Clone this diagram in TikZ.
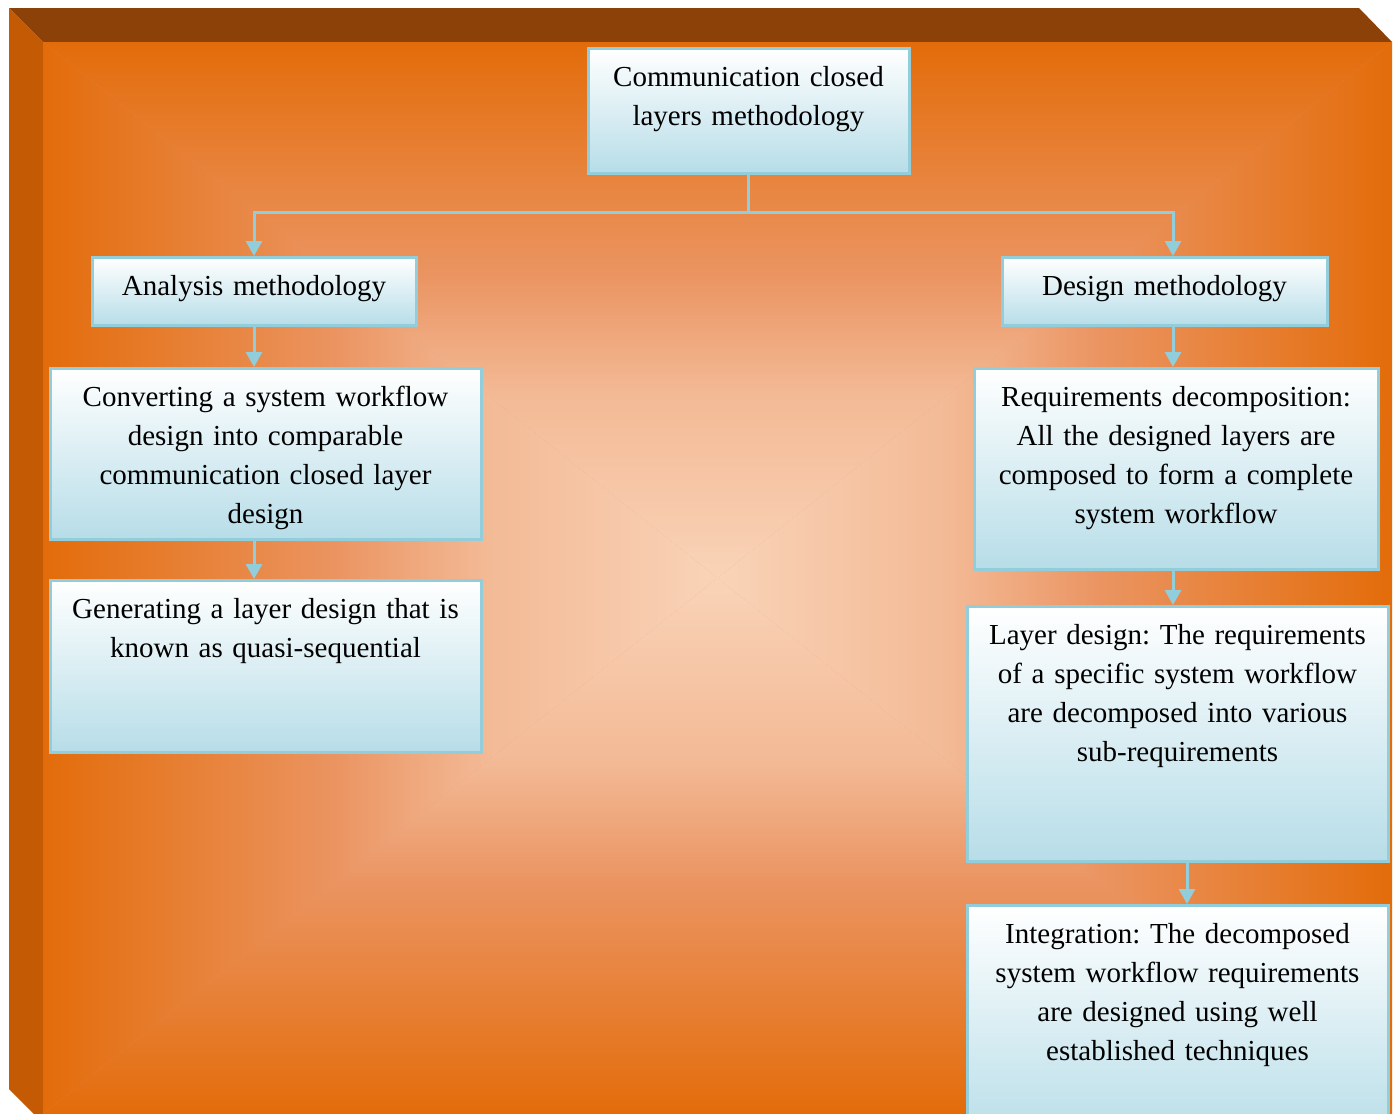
\documentclass[tikz,border=0pt]{standalone}
\usepackage{fontspec}
\setmainfont{Liberation Serif}
\usetikzlibrary{arrows.meta}
\frenchspacing
\definecolor{bevtop}{HTML}{8B4108}
\definecolor{bevside}{HTML}{C55A05}
\definecolor{faceorange}{HTML}{E36C0A}
\definecolor{facemid}{HTML}{EB9563}
\definecolor{facelite}{HTML}{F3BA96}
\definecolor{facepeach}{HTML}{F9D3B7}
\definecolor{boxblue}{HTML}{B7DDE8}
\definecolor{linkblue}{HTML}{92CDDC}
% edge (left) to centre (right) of the board
\pgfdeclarehorizontalshading{edgefade}{100bp}{color(0bp)=(faceorange); color(25bp)=(faceorange); color(47bp)=(facemid); color(58bp)=(facelite); color(75bp)=(facepeach); color(100bp)=(facepeach)}

\begin{document}
\begin{tikzpicture}[x=0.5pt,y=-0.5pt,
    box/.style={draw=linkblue, line width=1.5pt, top color=white, middle color=boxblue!50, bottom color=boxblue,
      anchor=north, align=center, inner xsep=0pt, inner ysep=0pt, text height=19pt,
      font=\fontsize{14.5}{19.5}\selectfont},
    link/.style={draw=linkblue, line width=1.5pt},
    flow/.style={link, -{Triangle[width=8pt,length=7.5pt]}},
    face/.style={shading=edgefade, shading angle=#1}]
  % Page and bevelled board
  \clip (0,0) rectangle (1398,1114);
  \fill[white] (0,0) rectangle (1398,1114);
  \fill[bevtop] (9,8) -- (1359,8) -- (1392,42) -- (43,42) -- cycle;
  \fill[bevside] (9,8) -- (43,42) -- (43,1123) -- (9,1089) -- cycle;
  \fill[facemid] (43,42) rectangle (1392,1114);
  \coordinate (mid) at (717.5,578);
  \shade[face=0] (43,42) -- (mid) -- (43,1114) -- cycle;
  \shade[face=180] (1392,42) -- (mid) -- (1392,1114) -- cycle;
  \shade[face=270] (43,42) -- (mid) -- (1392,42) -- cycle;
  \shade[face=90] (43,1114) -- (mid) -- (1392,1114) -- cycle;

  % Boxes
  \node[box, text width=160.5pt, text depth=43.5pt] (top) at (748.5,47) {Communication closed\\layers methodology};
  \node[box, text width=162pt, text depth=15pt] (ana) at (254,256) {Analysis methodology};
  \node[box, text width=162.5pt, text depth=15pt] (des) at (1164.5,256) {Design methodology};
  \node[box, text width=215.5pt, text depth=66.5pt] (conv) at (265.5,367) {Converting a system workflow\\design into comparable\\communication closed layer\\design};
  \node[box, text width=215.5pt, text depth=67pt] (gen) at (265.5,579) {Generating a layer design that is\\known as quasi-sequential};
  \node[box, text width=202pt, text depth=81.5pt] (req) at (1176,367) {Requirements decomposition:\\All the designed layers are\\composed to form a complete\\system workflow};
  \node[box, text width=210.5pt, text depth=108.5pt] (lay) at (1177.5,605) {Layer design: The requirements\\of a specific system workflow\\are decomposed into various\\sub-requirements};
  \node[box, text width=210.5pt, text depth=100pt] (integ) at (1177.5,904) {Integration: The decomposed\\system workflow requirements\\are designed using well\\established techniques};

  % Connectors
  \coordinate (rcol) at (1173,212);
  \draw[link] (top.south) -- (top.south |- rcol) coordinate (split);
  \draw[flow] (split) -| (ana.north);
  \draw[flow] (split) -| (rcol |- des.north);
  \draw[flow] (ana.south) -- (ana.south |- conv.north);
  \draw[flow] (conv.south -| ana.south) -- (gen.north -| ana.south);
  \draw[flow] (rcol |- des.south) -- (rcol |- req.north);
  \draw[flow] (rcol |- req.south) -- (rcol |- lay.north);
  \draw[flow] ([xshift=4.75pt]lay.south) -- ([xshift=4.75pt]lay.south |- integ.north);
\end{tikzpicture}
\end{document}
